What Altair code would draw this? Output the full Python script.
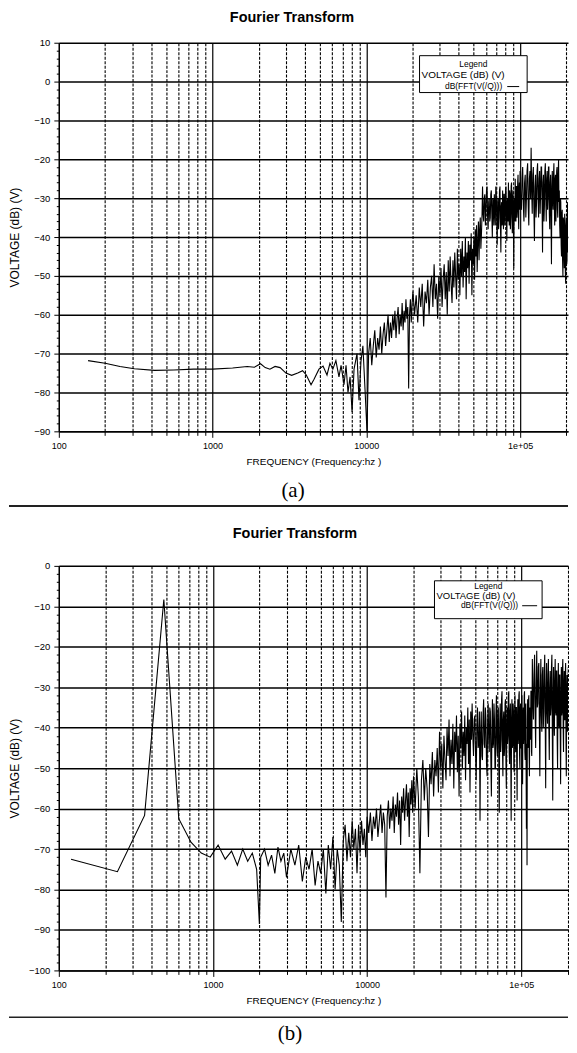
import altair as alt
import pandas as pd

# ---------------- panel (a) data: (frequency Hz, dB) ----------------
seg_a_low = [(155, -71.8), (200, -72.5), (250, -73.3), (310, -73.9), (420, -74.3), (560, -74.2),
             (750, -74.0), (1000, -74.0), (1350, -73.7), (1680, -73.3), (1870, -73.5), (2050, -72.6),
             (2200, -73.6), (2360, -74.0), (2550, -73.3), (2750, -73.6), (3000, -75.0), (3270, -75.6),
             (3580, -75.0), (3850, -74.4), (4070, -75.5), (4370, -78.0), (4570, -76.6), (4920, -74.0),
             (5230, -73.2), (5550, -75.5), (5800, -72.5), (6060, -74.0), (6340, -71.8), (6640, -76.0),
             (6850, -73.0), (7160, -78.0), (7380, -73.0), (7600, -80.0), (7840, -76.0), (8080, -85.0),
             (8320, -74.0), (8700, -70.0), (8960, -82.0), (9230, -72.0), (9500, -68.0), (9800, -79.0)]
seg_a_mid1 = [(10100, -90), (10350, -70), (10600, -66), (10850, -73), (11100, -68), (11350, -64),
              (11600, -71), (11850, -66), (12100, -69), (12350, -63), (12600, -70), (12850, -65),
              (13100, -62), (13350, -68), (13600, -64), (13850, -60), (14100, -67), (14350, -62),
              (14600, -66), (14850, -60), (15100, -64), (15350, -59), (15600, -66), (15850, -61),
              (16100, -58), (16350, -65), (16600, -60), (16850, -63), (17100, -57), (17350, -64),
              (17600, -59), (17850, -62), (18100, -56), (18350, -61), (18600, -58), (18850, -79),
              (19100, -60), (19350, -56), (19600, -62), (19850, -57)]
seg_a_mid2 = [(20100, -54), (20600, -60), (21100, -55), (21600, -62), (22100, -53), (22600, -58),
              (23100, -52), (23600, -63), (24100, -54), (24600, -57), (25100, -51), (25600, -60),
              (26100, -53), (26600, -50), (27100, -58), (27600, -47), (28100, -56), (28600, -52),
              (29100, -61), (29600, -50), (30100, -55), (30600, -48), (31100, -58), (31600, -51),
              (32100, -47), (32600, -56), (33100, -49), (33600, -60), (34100, -46), (34600, -54),
              (35100, -45), (35600, -52), (36100, -57), (36600, -46), (37100, -53), (37600, -44),
              (38100, -50), (38600, -56), (39100, -43), (39600, -51), (40100, -47), (40600, -55),
              (41100, -43), (41600, -50), (42100, -41), (42600, -53), (43100, -45), (43600, -49),
              (44100, -40), (44600, -56), (45100, -44), (45600, -48), (46100, -41), (46600, -52),
              (47100, -42), (47600, -46), (48100, -39), (48600, -55), (49100, -43), (49600, -47),
              (50100, -40), (50600, -51), (51100, -38), (51600, -45), (52100, -37), (52600, -49),
              (53100, -41), (53600, -36), (54100, -46), (54600, -38), (55100, -35), (55600, -43),
              (56100, -39), (56600, -34)]
seg_a_high1 = [(57000, -27), (57500, -34), (58000, -36), (58500, -30), (59000, -29), (59500, -37),
               (60000, -33), (60500, -28), (61000, -27), (61500, -35), (62000, -38), (62500, -31),
               (63000, -30), (63500, -36), (64000, -35), (64500, -29), (65000, -28), (65500, -34),
               (66000, -40), (66500, -30), (67000, -31), (67500, -37), (68000, -29), (68500, -33),
               (69000, -37), (69500, -27), (70000, -28), (70500, -36), (71000, -42), (71500, -31),
               (72000, -30), (72500, -38), (73000, -35), (73500, -28), (74000, -27), (74500, -36),
               (75000, -44), (75500, -32), (76000, -31), (76500, -37), (77000, -28), (77500, -34),
               (78000, -38), (78500, -29), (79000, -29), (79500, -37), (80000, -36), (80500, -28),
               (81000, -27), (81500, -35), (82000, -41), (82500, -31), (83000, -30), (83500, -36),
               (84000, -26), (84500, -33), (85000, -37), (85500, -28), (86000, -29), (86500, -38),
               (87000, -34), (87500, -27), (88000, -26), (88500, -35), (89000, -39), (89500, -30),
               (90000, -28), (90500, -37), (91000, -48), (91500, -31), (92000, -30), (92500, -36),
               (93000, -25), (93500, -33), (94000, -36), (94500, -27), (95000, -27), (95500, -35),
               (96000, -33), (96500, -26), (97000, -24), (97500, -34), (98000, -38), (98500, -28),
               (99000, -26), (99500, -33)]
seg_a_high2 = [(100000, -23), (101000, -31), (102000, -33), (103000, -25), (104000, -22), (105000, -32),
               (106000, -36), (107000, -26), (108000, -24), (109000, -35), (110000, -30), (111000, -23),
               (112000, -21), (113000, -32), (114000, -37), (115000, -25), (116000, -23), (117000, -30),
               (118000, -17), (119000, -28), (120000, -34), (121000, -24), (122000, -22), (123000, -33),
               (124000, -41), (125000, -27), (126000, -24), (127000, -35), (128000, -31), (129000, -23),
               (130000, -21), (131000, -30), (132000, -35), (133000, -25), (134000, -23), (135000, -34),
               (136000, -29), (137000, -22), (138000, -22), (139000, -31), (140000, -44), (141000, -26),
               (142000, -24), (143000, -36), (144000, -32), (145000, -23), (146000, -21), (147000, -30),
               (148000, -36), (149000, -25), (150000, -23), (151000, -33), (152000, -30), (153000, -22),
               (154000, -22), (155000, -34), (156000, -38), (157000, -26), (158000, -24), (159000, -35),
               (160000, -47), (161000, -27), (162000, -23), (163000, -31), (164000, -33), (165000, -24),
               (166000, -21), (167000, -32), (168000, -37), (169000, -25), (170000, -24), (171000, -36),
               (172000, -30), (173000, -23), (174000, -22), (175000, -33), (176000, -35), (177000, -24),
               (178000, -20), (179000, -31), (180000, -28), (181000, -37), (182000, -40), (183000, -30),
               (184000, -31), (185000, -42), (186000, -45), (187000, -34), (188000, -33), (189000, -46),
               (190000, -50), (191000, -35), (192000, -36), (193000, -44), (194000, -48), (195000, -34),
               (196000, -38), (197000, -49), (198000, -52), (199000, -37), (200000, -35), (201000, -47),
               (202000, -46), (203000, -33), (204000, -31), (205000, -44)]

# ---------------- panel (b) data ----------------
seg_b_low = [(120, -72.5), (240, -75.6), (360, -61.7), (480, -8.3), (600, -62.5), (720, -68.3),
             (840, -71.0), (960, -72.0), (1080, -69.0), (1200, -72.5), (1320, -70.5), (1440, -74.0),
             (1560, -70.0), (1680, -73.0), (1800, -71.0), (1920, -75.0), (2000, -88.5), (2040, -72.0),
             (2160, -70.0), (2280, -74.0), (2400, -71.5), (2520, -76.0), (2640, -69.5), (2760, -73.0),
             (2880, -71.0), (3000, -77.0), (3200, -70), (3400, -74), (3600, -69), (3800, -78),
             (4000, -72), (4200, -75), (4400, -70), (4600, -79), (4800, -73), (5000, -76),
             (5200, -70), (5400, -81), (5600, -69), (5800, -75), (6000, -67), (6200, -80),
             (6400, -70), (6600, -74), (6800, -88), (7000, -68), (7200, -64), (7400, -73),
             (7600, -66), (7800, -72), (8000, -63), (8200, -70), (8400, -65), (8600, -76),
             (8800, -64), (9000, -71), (9200, -63), (9400, -69), (9600, -65), (9800, -72),
             (10000, -62)]
seg_b_mid1 = [(10250, -66), (10500, -61), (10750, -68), (11000, -62), (11250, -65), (11500, -60),
              (11750, -67), (12000, -63), (12250, -59), (12500, -66), (12750, -61), (13000, -64),
              (13250, -82), (13500, -62), (13750, -58), (14000, -65), (14250, -60), (14500, -63),
              (14750, -57), (15000, -66), (15250, -59), (15500, -62), (15750, -56), (16000, -64),
              (16250, -58), (16500, -69), (16750, -57), (17000, -61), (17250, -55), (17500, -63),
              (17750, -58), (18000, -54), (18250, -62), (18500, -56), (18750, -67), (19000, -55),
              (19250, -59), (19500, -53), (19750, -61)]
seg_b_mid2 = [(20000, -52), (20500, -60), (21000, -50), (21500, -57), (22000, -76), (22500, -53),
              (23000, -48), (23500, -58), (24000, -50), (24500, -55), (25000, -67), (25500, -49),
              (26000, -54), (26500, -46), (27000, -57), (27500, -48), (28000, -52), (28500, -45),
              (29000, -56), (29500, -41), (30000, -50), (30500, -44), (31000, -55), (31500, -42),
              (32000, -48), (32500, -53), (33000, -40), (33500, -47), (34000, -38), (34500, -52),
              (35000, -43), (35500, -49), (36000, -39), (36500, -55), (37000, -41), (37500, -46),
              (38000, -37), (38500, -51), (39000, -42), (39500, -57), (40000, -39), (40500, -45),
              (41000, -36), (41500, -50), (42000, -41), (42500, -47), (43000, -37), (43500, -53),
              (44000, -40), (44500, -44), (45000, -35), (45500, -49), (46000, -38), (46500, -56),
              (47000, -36), (47500, -43)]
seg_b_high1 = [(48000, -34), (48500, -42), (49000, -47), (49500, -38), (50000, -37), (50500, -46),
               (51000, -53), (51500, -40), (52000, -35), (52500, -45), (53000, -44), (53500, -36),
               (54000, -63), (54500, -41), (55000, -36), (55500, -47), (56000, -48), (56500, -37),
               (57000, -33), (57500, -44), (58000, -45), (58500, -35), (59000, -38), (59500, -49),
               (60000, -52), (60500, -39), (61000, -34), (61500, -43), (62000, -46), (62500, -35),
               (63000, -36), (63500, -48), (64000, -57), (64500, -40), (65000, -33), (65500, -45),
               (66000, -44), (66500, -34), (67000, -38), (67500, -50), (68000, -50), (68500, -37),
               (69000, -32), (69500, -44), (70000, -47), (70500, -36), (71000, -35), (71500, -49),
               (72000, -61), (72500, -39), (73000, -34), (73500, -46), (74000, -43), (74500, -33),
               (75000, -31), (75500, -45), (76000, -52), (76500, -38), (77000, -36), (77500, -47),
               (78000, -45), (78500, -34), (79000, -33), (79500, -48), (80000, -55), (80500, -39),
               (81000, -35), (81500, -44), (82000, -42), (82500, -32), (83000, -31), (83500, -46),
               (84000, -49), (84500, -36), (85000, -34), (85500, -47), (86000, -63), (86500, -38),
               (87000, -33), (87500, -45), (88000, -44), (88500, -34), (89000, -36), (89500, -50),
               (90000, -51), (90500, -37), (91000, -32), (91500, -43), (92000, -46), (92500, -35),
               (93000, -35), (93500, -49), (94000, -58), (94500, -38), (95000, -33), (95500, -44),
               (96000, -42), (96500, -32), (97000, -31), (97500, -47), (98000, -50), (98500, -36),
               (99000, -34), (99500, -45), (100000, -45), (100500, -33), (101000, -32), (101500, -48),
               (102000, -54), (102500, -37), (103000, -35), (103500, -44), (104000, -41), (104500, -32),
               (105000, -31), (105500, -46), (106000, -48), (106500, -36), (107000, -34), (107500, -50),
               (108000, -65), (108500, -44), (109000, -74), (109500, -38), (110000, -33), (110500, -45),
               (111000, -44), (111500, -33), (112000, -32), (112500, -47), (113000, -52), (113500, -37),
               (114000, -35), (114500, -43), (115000, -40), (115500, -31), (116000, -31), (116500, -46),
               (117000, -47)]
seg_b_high2 = [(118000, -23), (119000, -33), (120000, -38), (121000, -27), (122000, -22), (123000, -36),
               (124000, -45), (125000, -29), (126000, -21), (127000, -35), (128000, -34), (129000, -25),
               (130000, -24), (131000, -39), (132000, -52), (133000, -30), (134000, -23), (135000, -37),
               (136000, -41), (137000, -27), (138000, -25), (139000, -40), (140000, -36), (141000, -26),
               (142000, -22), (143000, -38), (144000, -55), (145000, -31), (146000, -24), (147000, -36),
               (148000, -39), (149000, -27), (150000, -23), (151000, -40), (152000, -48), (153000, -30),
               (154000, -26), (155000, -37), (156000, -35), (157000, -25), (158000, -22), (159000, -41),
               (160000, -58), (161000, -32), (162000, -25), (163000, -38), (164000, -42), (165000, -28),
               (166000, -23), (167000, -36), (168000, -37), (169000, -26), (170000, -26), (171000, -43),
               (172000, -50), (173000, -31), (174000, -24), (175000, -39), (176000, -40), (177000, -27),
               (178000, -27), (179000, -42), (180000, -54), (181000, -33), (182000, -25), (183000, -37),
               (184000, -36), (185000, -26), (186000, -23), (187000, -40), (188000, -46), (189000, -30),
               (190000, -26), (191000, -38), (192000, -38), (193000, -27), (194000, -24), (195000, -43),
               (196000, -52), (197000, -32), (198000, -27), (199000, -39), (200000, -41), (201000, -28),
               (202000, -25), (203000, -44)]

# ---------------- axis ticks ----------------
x_tick_values = [100, 200, 300, 400, 500, 600, 700, 800, 900,
                 1000, 2000, 3000, 4000, 5000, 6000, 7000, 8000, 9000,
                 10000, 20000, 30000, 40000, 50000, 60000, 70000, 80000, 90000,
                 100000, 200000]
y_ticks_a = list(range(-90, 11, 2))
y_ticks_b = list(range(-100, 1, 2))

FONT = "Liberation Sans"
DECADE = "datum.value == 100 || datum.value == 1000 || datum.value == 10000 || datum.value == 100000"
LEFT = 50   # distance from chart left edge to plot area


def frame(pairs):
    return pd.DataFrame(pairs, columns=["f", "db"])


def txt(s, x, y, size, align="center", font=FONT, weight="normal"):
    return alt.Chart(pd.DataFrame({"t": [s]})).mark_text(
        font=font, fontSize=size, fontWeight=weight, baseline="middle", align=align, color="black"
    ).encode(text="t:N", x=alt.value(x), y=alt.value(y))


def panel(df, xmax, ydom, yticks, w, h, y_ext, ytitle_pad, legend, sep_y, sep_w,
          label, label_xy, title_y, title_x):
    x_axis = alt.Axis(
        values=x_tick_values,
        title="FREQUENCY (Frequency:hz )",
        titleFont=FONT, titleFontSize=10, titleFontWeight="normal", titleColor="black", titlePadding=6,
        labelFont=FONT, labelFontSize=9, labelColor="black", labelPadding=4,
        labelExpr="datum.value == 100000 ? '1e+05' : (" + DECADE + ") ? format(datum.value, 'd') : ''",
        labelOverlap=False, labelFlush=False,
        tickColor="black",
        tickSize={"condition": {"test": DECADE, "value": 6}, "value": 4},
        domainColor="black", domainWidth=1.3,
        grid=True, gridColor="black",
        gridWidth={"condition": {"test": DECADE, "value": 1.2}, "value": 1.1},
        gridDash={"condition": {"test": DECADE, "value": []}, "value": [3, 1.5]},
    )
    y_axis = alt.Axis(
        values=yticks,
        title="VOLTAGE (dB) (V)",
        titleFont=FONT, titleFontSize=12, titleFontWeight="normal", titleColor="black",
        titlePadding=ytitle_pad, minExtent=y_ext, maxExtent=y_ext,
        labelFont=FONT, labelFontSize=9.5, labelColor="black", labelPadding=4,
        labelExpr="datum.value % 10 == 0 ? datum.label : ''",
        tickColor="black",
        tickSize={"condition": {"test": "datum.value % 10 == 0", "value": 5}, "value": 2.5},
        domainColor="black", domainWidth=1.3,
        grid=True, gridColor="black",
        gridWidth={"condition": {"test": "datum.value % 10 == 0", "value": 1.5}, "value": 0},
        gridOpacity={"condition": {"test": "datum.value % 10 == 0", "value": 1}, "value": 0},
    )
    line = alt.Chart(df).mark_line(color="black", strokeWidth=1.1, clip=True).encode(
        x=alt.X("f:Q", scale=alt.Scale(type="log", domain=[100, xmax], nice=False), axis=x_axis),
        y=alt.Y("db:Q", scale=alt.Scale(domain=ydom, nice=False, zero=False), axis=y_axis),
    )
    one = pd.DataFrame({"k": [0]})
    bx0, bx1, by0, by1, lx, ly1, ly2, ly3, tx_right, seg0, seg1, segy, vsize = legend
    box = alt.Chart(one).mark_rect(fill="white", stroke="black", strokeWidth=1).encode(
        x=alt.value(bx0), x2=alt.value(bx1), y=alt.value(by0), y2=alt.value(by1))
    t1 = txt("Legend", (bx0 + bx1) / 2, ly1, 8.5)
    t2 = txt("VOLTAGE (dB) (V)", lx, ly2, vsize, align="left")
    t3 = txt("dB(FFT(V(/Q)))", tx_right, ly3, 8.5, align="right")
    seg = alt.Chart(one).mark_rule(color="black", strokeWidth=1).encode(
        x=alt.value(seg0), x2=alt.value(seg1), y=alt.value(segy))
    sep = alt.Chart(one).mark_rule(color="#222222", strokeWidth=sep_w).encode(
        x=alt.value(-LEFT), x2=alt.value(w), y=alt.value(sep_y))
    lab = txt(label, label_xy[0], label_xy[1], 21, font="Liberation Serif")
    ttl = txt("Fourier Transform", title_x, title_y, 14.5, weight="bold")
    return alt.layer(line, box, t1, t2, t3, seg, sep, lab, ttl).properties(width=w, height=h)


df_a = frame(seg_a_low + seg_a_mid1 + seg_a_mid2 + seg_a_high1 + seg_a_high2)
df_b = frame(seg_b_low + seg_b_mid1 + seg_b_mid2 + seg_b_high1 + seg_b_high2)

chart_a = panel(df_a, 205000, [-90, 10], y_ticks_a, 511, 390, 23, 14,
                (362, 470, 13, 50, 364, 21, 32, 43, 445, 450, 462, 44, 10),
                465, 2, "(a)", (235, 450), -25, 234)
chart_b = panel(df_b, 201000, [-100, 0], y_ticks_b, 511, 406, 28, 9,
                (377, 485, 15, 53, 379, 20, 30, 39, 461, 465, 480, 40, 9.5),
                453, 1.5, "(b)", (232, 470), -32, 237)

chart = alt.vconcat(chart_a, chart_b, spacing=19).properties(
    padding=0
).configure_view(stroke=None)

chart.save("out.html", embed_options={"renderer": "svg", "actions": False})
